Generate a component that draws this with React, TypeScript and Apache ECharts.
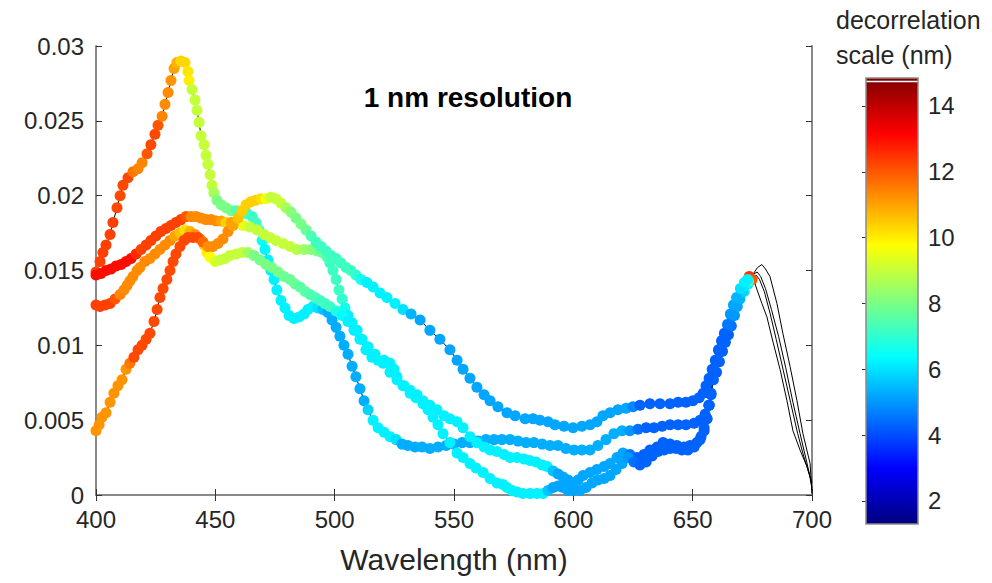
import React, { useEffect, useRef } from "react";
import * as echarts from "echarts";

// ---------- axis / colorbar settings ----------
const X_MIN = 400;
const X_MAX = 700;
const X_STEP = 50;
const Y_MIN = 0;
const Y_MAX = 0.03;
const Y_STEP = 0.005;
const CB_MIN = 1.3;
const CB_MAX = 14.85;
const CB_TICKS = [2, 4, 6, 8, 10, 12, 14];
const JET = ["#000080", "#0000ff", "#0080ff", "#00ffff", "#80ff80", "#ffff00", "#ff8000", "#ff0000", "#800000"];

// ---------- curve 1 (tall 435 nm peak) ----------
const C1_WL = [400.0, 401.7, 402.9, 404.2, 405.9, 407.1, 408.8, 410.1, 411.3, 413.4, 415.5, 417.6, 419.3, 421.4, 423.0, 424.7, 426.0, 427.7, 428.9, 430.2, 431.4, 432.7, 433.9, 435.6, 437.3, 438.5, 439.0, 440.2, 441.5, 442.3, 443.2, 444.0, 445.3, 446.1, 446.9, 447.8, 448.6, 449.4, 450.7, 452.4, 454.5, 456.6, 458.7, 460.8, 463.3, 465.4, 467.0, 468.3, 469.6, 470.8, 472.1, 473.3, 474.6, 475.8, 477.5, 479.2, 480.9, 483.0, 485.1, 487.2, 488.8, 490.9, 493.0, 495.1, 497.2, 498.9, 500.6, 502.2, 503.9, 505.6, 507.3, 508.9, 510.6, 512.3, 514.0, 516.1, 518.2, 520.7, 523.2, 525.7, 528.2, 530.7, 533.7, 536.6, 539.9, 543.3, 546.7, 550.0, 553.4, 556.7, 560.1, 563.4, 566.8, 570.1, 573.5, 576.8, 580.2, 583.5, 586.9, 590.2, 593.6, 596.9, 600.3, 603.6, 607.0, 610.3, 613.7, 617.0, 620.4, 623.7, 627.1, 630.5, 633.8, 637.2, 640.5, 643.9, 647.2, 650.6, 653.1, 655.2, 656.8, 657.3, 657.7, 658.6, 659.8, 661.1, 662.4, 663.6, 664.9, 666.2, 667.4, 668.7, 670.4, 672.0, 673.7];
const C1_R = [0.0149, 0.0156, 0.0162, 0.0167, 0.0174, 0.0182, 0.0192, 0.0200, 0.0207, 0.0212, 0.0216, 0.0218, 0.0222, 0.0228, 0.0234, 0.0241, 0.0247, 0.0253, 0.0261, 0.0269, 0.0277, 0.0285, 0.0289, 0.0290, 0.0289, 0.0283, 0.0277, 0.0271, 0.0264, 0.0257, 0.0249, 0.0240, 0.0234, 0.0227, 0.0221, 0.0214, 0.0207, 0.0202, 0.0197, 0.0194, 0.0192, 0.0190, 0.0190, 0.0188, 0.0188, 0.0186, 0.0182, 0.0177, 0.0170, 0.0164, 0.0157, 0.0150, 0.0144, 0.0137, 0.0130, 0.0125, 0.0120, 0.0118, 0.0119, 0.0121, 0.0124, 0.0126, 0.0125, 0.0124, 0.0122, 0.0117, 0.0112, 0.0106, 0.0100, 0.0094, 0.0086, 0.0079, 0.0071, 0.0063, 0.0057, 0.0050, 0.0045, 0.0042, 0.0039, 0.0037, 0.0034, 0.0033, 0.0032, 0.0032, 0.0031, 0.0032, 0.0033, 0.0034, 0.0035, 0.0035, 0.0036, 0.0037, 0.0037, 0.0037, 0.0037, 0.0036, 0.0035, 0.0035, 0.0034, 0.0033, 0.0033, 0.0031, 0.0030, 0.0030, 0.0030, 0.0033, 0.0037, 0.0041, 0.0043, 0.0043, 0.0044, 0.0045, 0.0045, 0.0046, 0.0047, 0.0047, 0.0047, 0.0048, 0.0050, 0.0054, 0.0060, 0.0068, 0.0077, 0.0082, 0.0089, 0.0096, 0.0102, 0.0107, 0.0113, 0.0120, 0.0126, 0.0131, 0.0136, 0.0141, 0.0146];
const C1_D = [12.3, 12.3, 12.3, 12.3, 12.3, 12.3, 12.2, 12.2, 12.2, 12.2, 11.6, 11.4, 11.4, 12.0, 12.2, 12.2, 12.0, 11.4, 11.3, 11.3, 11.2, 11.0, 10.8, 10.3, 10.3, 10.1, 10.0, 9.0, 9.0, 9.0, 9.0, 9.0, 9.0, 9.0, 9.0, 9.0, 9.0, 8.6, 8.0, 8.0, 8.0, 8.0, 7.4, 7.2, 7.2, 7.2, 7.2, 7.0, 6.5, 6.3, 6.2, 6.2, 6.2, 6.2, 6.2, 6.2, 6.2, 6.2, 6.2, 6.2, 6.2, 6.2, 6.0, 5.6, 5.3, 5.3, 5.3, 5.3, 5.3, 5.3, 5.3, 5.3, 5.3, 5.3, 5.8, 6.2, 6.2, 6.2, 6.2, 6.0, 5.3, 5.3, 5.3, 5.3, 5.3, 5.3, 5.3, 5.3, 5.3, 5.3, 5.3, 5.3, 5.3, 5.3, 5.3, 5.3, 5.3, 5.3, 5.3, 5.3, 5.3, 5.3, 5.3, 5.3, 5.3, 5.3, 5.3, 5.3, 5.3, 5.0, 4.5, 4.3, 4.3, 4.3, 4.3, 4.3, 4.3, 4.3, 4.3, 4.3, 4.3, 4.3, 4.3, 4.3, 4.3, 4.3, 4.3, 4.3, 4.6, 5.0, 5.2, 5.4, 5.8, 7.5, 12.5];
const C1_TAIL_WL = [675.5, 677.0, 679.0, 681.1, 683.7, 686.6, 689.5, 692.0, 695.0, 697.9, 700.0];
const C1_TAIL_R = [0.0144, 0.0137, 0.0128, 0.0119, 0.0102, 0.0084, 0.0063, 0.0043, 0.0030, 0.0019, 0.0008];

// ---------- curve 2 (red band from 0.0147) ----------
const C2_WL = [400.0, 402.1, 404.2, 406.3, 408.4, 410.5, 412.6, 414.7, 416.8, 418.9, 421.0, 423.0, 425.1, 427.2, 429.3, 431.4, 433.5, 435.6, 437.7, 439.8, 441.9, 444.0, 446.1, 448.2, 450.3, 452.4, 454.5, 456.6, 458.7, 461.6, 464.5, 467.5, 470.4, 472.9, 475.4, 478.4, 481.3, 484.2, 487.2, 490.1, 492.6, 494.7, 496.8, 498.0, 499.3, 500.6, 501.8, 503.1, 504.3, 505.6, 507.3, 509.4, 511.5, 514.0, 516.9, 520.3, 523.2, 526.1, 529.1, 531.6, 534.5, 537.0, 539.9, 542.9, 545.8, 548.3, 551.3, 553.8, 556.7, 559.6, 562.6, 565.1, 568.0, 571.0, 573.5, 576.4, 579.3, 581.8, 584.4, 586.9, 589.0, 591.5, 593.6, 595.7, 597.8, 599.9, 602.0, 604.1, 607.0, 609.9, 612.9, 615.4, 618.3, 620.8, 623.7, 626.7, 629.6, 632.1, 635.1, 637.6, 640.5, 643.4, 646.4, 648.9, 651.8, 653.5, 654.8, 656.0, 656.9, 657.7, 658.7, 660.0, 661.2, 662.5, 663.7, 665.0, 666.2, 667.5, 668.7, 669.8, 671.6, 673.2, 674.9];
const C2_R = [0.0147, 0.0148, 0.0150, 0.0151, 0.0153, 0.0154, 0.0156, 0.0158, 0.0161, 0.0164, 0.0167, 0.0170, 0.0173, 0.0176, 0.0178, 0.0180, 0.0182, 0.0184, 0.0186, 0.0186, 0.0186, 0.0185, 0.0184, 0.0184, 0.0183, 0.0183, 0.0182, 0.0182, 0.0182, 0.0180, 0.0179, 0.0177, 0.0174, 0.0172, 0.0170, 0.0168, 0.0166, 0.0164, 0.0164, 0.0164, 0.0163, 0.0162, 0.0159, 0.0155, 0.0150, 0.0144, 0.0137, 0.0131, 0.0125, 0.0120, 0.0115, 0.0110, 0.0104, 0.0099, 0.0094, 0.0088, 0.0082, 0.0077, 0.0073, 0.0070, 0.0067, 0.0063, 0.0060, 0.0057, 0.0053, 0.0051, 0.0049, 0.0045, 0.0039, 0.0035, 0.0032, 0.0030, 0.0029, 0.0027, 0.0025, 0.0025, 0.0024, 0.0023, 0.0022, 0.0020, 0.0019, 0.0016, 0.0014, 0.0012, 0.0010, 0.0008, 0.0010, 0.0013, 0.0015, 0.0017, 0.0019, 0.0021, 0.0025, 0.0028, 0.0027, 0.0025, 0.0027, 0.0030, 0.0032, 0.0035, 0.0034, 0.0033, 0.0032, 0.0033, 0.0035, 0.0039, 0.0045, 0.0051, 0.0060, 0.0067, 0.0077, 0.0082, 0.0089, 0.0096, 0.0102, 0.0107, 0.0113, 0.0120, 0.0126, 0.0131, 0.0136, 0.0141, 0.0144];
const C2_D = [13, 13, 13, 13, 13, 13, 13, 13, 12.6, 12.3, 12.3, 12.3, 12.3, 12.3, 12.3, 12.3, 12.3, 12.3, 12.0, 11.4, 11.3, 11.3, 11.3, 11.3, 11.3, 11.0, 10.4, 11.0, 11.0, 9.5, 9.0, 9.0, 9.0, 9.0, 9.0, 9.0, 9.0, 8.8, 8.5, 8.2, 8.0, 7.8, 7.5, 7.2, 7.2, 7.2, 7.2, 7.0, 6.6, 6.2, 6.2, 6.2, 6.2, 6.2, 6.2, 6.2, 6.2, 6.2, 6.2, 6.2, 6.2, 6.2, 6.2, 6.2, 6.2, 6.2, 6.2, 6.2, 6.2, 6.2, 6.2, 6.2, 6.2, 6.2, 6.2, 6.2, 6.2, 6.2, 6.2, 6.2, 6.2, 5.6, 5.2, 5.2, 5.2, 5.2, 5.2, 5.2, 5.2, 5.2, 5.2, 5.2, 5.2, 5.2, 4.6, 4.3, 4.3, 4.3, 4.3, 4.3, 4.3, 4.3, 4.3, 4.3, 4.3, 4.3, 4.3, 4.3, 4.3, 4.3, 4.3, 4.3, 4.3, 4.3, 4.3, 4.3, 4.6, 5.0, 5.2, 5.5, 6.0, 6.2, 12.0];
const C2_TAIL_WL = [676.5, 678.0, 680.0, 682.5, 685.0, 688.0, 691.0, 694.0, 696.5, 699.0, 700.0];
const C2_TAIL_R = [0.0147, 0.0144, 0.0136, 0.0121, 0.0104, 0.0083, 0.0062, 0.0041, 0.0026, 0.0013, 0.0005];

// ---------- curve 3 (starts at 0.0127) ----------
const C3_WL = [400.0, 401.7, 403.8, 405.9, 408.0, 410.1, 411.7, 413.0, 414.2, 415.5, 417.2, 418.4, 420.5, 422.6, 424.7, 426.8, 428.9, 431.0, 433.1, 435.2, 437.3, 439.4, 441.5, 443.6, 445.3, 446.5, 447.8, 449.9, 452.0, 454.1, 456.1, 458.7, 461.2, 463.7, 466.2, 468.7, 471.2, 473.7, 476.3, 478.8, 481.3, 483.4, 485.5, 487.6, 489.7, 491.8, 493.9, 495.9, 498.0, 500.6, 503.1, 505.6, 508.1, 510.6, 513.1, 515.6, 518.2, 520.7, 523.2, 524.9, 526.1, 528.6, 531.6, 534.1, 537.0, 539.1, 541.2, 543.3, 545.4, 548.3, 551.3, 553.8, 556.7, 559.2, 562.2, 565.1, 568.0, 570.5, 572.2, 574.3, 576.4, 578.9, 581.8, 584.8, 587.3, 589.4, 591.5, 593.6, 595.7, 597.8, 600.3, 602.8, 605.3, 607.8, 610.3, 612.9, 615.4, 617.9, 620.4, 622.9, 625.4, 627.9, 630.5, 633.0, 635.5, 638.0, 640.5, 643.0, 645.5, 648.0, 650.6, 653.1, 654.8, 656.0, 656.9, 657.7, 658.3, 659.6, 660.8, 662.1, 663.3, 664.6, 665.8, 667.1, 668.4, 669.6, 670.9, 672.1, 673.4];
const C3_R = [0.0127, 0.0126, 0.0127, 0.0128, 0.0131, 0.0134, 0.0137, 0.0140, 0.0143, 0.0146, 0.0150, 0.0152, 0.0156, 0.0158, 0.0161, 0.0164, 0.0167, 0.0170, 0.0173, 0.0175, 0.0177, 0.0176, 0.0174, 0.0171, 0.0167, 0.0162, 0.0159, 0.0156, 0.0157, 0.0158, 0.0160, 0.0161, 0.0162, 0.0162, 0.0160, 0.0157, 0.0154, 0.0152, 0.0149, 0.0146, 0.0144, 0.0141, 0.0139, 0.0136, 0.0134, 0.0132, 0.0130, 0.0128, 0.0126, 0.0123, 0.0120, 0.0116, 0.0110, 0.0104, 0.0097, 0.0092, 0.0090, 0.0090, 0.0088, 0.0084, 0.0079, 0.0073, 0.0068, 0.0065, 0.0061, 0.0057, 0.0052, 0.0047, 0.0041, 0.0035, 0.0028, 0.0025, 0.0021, 0.0018, 0.0015, 0.0011, 0.0008, 0.0007, 0.0005, 0.0003, 0.0002, 0.0001, 0.0001, 0.0001, 0.0001, 0.0003, 0.0005, 0.0006, 0.0005, 0.0003, 0.0003, 0.0003, 0.0005, 0.0008, 0.0010, 0.0011, 0.0013, 0.0017, 0.0021, 0.0025, 0.0022, 0.0020, 0.0022, 0.0026, 0.0029, 0.0030, 0.0031, 0.0031, 0.0030, 0.0030, 0.0032, 0.0037, 0.0043, 0.0051, 0.0060, 0.0068, 0.0077, 0.0082, 0.0089, 0.0096, 0.0102, 0.0107, 0.0113, 0.0120, 0.0126, 0.0131, 0.0136, 0.0140, 0.0143];
const C3_D = [12.3, 12.3, 12.3, 12.3, 12.0, 11.4, 11.3, 11.3, 11.3, 11.3, 11.3, 11.3, 11.3, 11.3, 11.3, 11.3, 11.3, 11.3, 11.0, 10.6, 10.2, 10.8, 11.2, 11.2, 10.5, 10.0, 9.8, 9.3, 9.0, 9.0, 9.0, 9.0, 9.0, 8.5, 8.0, 8.0, 8.0, 8.0, 8.0, 7.8, 7.8, 7.8, 7.6, 7.6, 7.4, 7.4, 7.2, 7.2, 7.2, 6.8, 6.4, 6.2, 6.2, 6.2, 6.2, 6.2, 6.2, 6.2, 6.2, 6.2, 6.2, 6.2, 6.2, 6.2, 6.2, 6.2, 6.2, 6.2, 6.2, 6.2, 6.2, 6.2, 6.2, 6.2, 6.2, 6.2, 6.2, 6.2, 6.2, 6.2, 6.2, 6.2, 6.2, 6.2, 6.2, 5.6, 5.2, 5.2, 5.2, 5.2, 5.2, 5.2, 5.2, 5.2, 5.2, 5.2, 5.2, 5.2, 5.2, 5.0, 4.5, 4.3, 4.3, 4.3, 4.3, 4.3, 4.3, 4.3, 4.3, 4.3, 4.3, 4.3, 4.3, 4.3, 4.3, 4.3, 4.3, 4.3, 4.3, 4.3, 4.3, 4.3, 4.5, 5.0, 5.2, 5.4, 5.8, 6.2, 7.5];
const C3_TAIL_WL = [675.5, 677.2, 679.0, 680.5, 682.4, 685.3, 687.8, 690.8, 693.7, 696.2, 699.2, 700.0];
const C3_TAIL_R = [0.0148, 0.0152, 0.0154, 0.0151, 0.0146, 0.0128, 0.0108, 0.0086, 0.0063, 0.0041, 0.0021, 0.0001];

// ---------- curve 4 (starts at 0.0043, upper blue tail) ----------
const C4_WL = [400.0, 401.3, 402.5, 404.2, 405.9, 407.5, 409.2, 410.9, 412.6, 414.2, 415.9, 417.6, 419.3, 421.0, 422.6, 424.3, 425.6, 426.8, 428.1, 429.7, 431.0, 432.3, 433.5, 435.2, 436.9, 438.5, 440.6, 442.7, 444.8, 446.9, 449.0, 451.1, 453.2, 455.3, 457.4, 459.5, 461.2, 462.9, 464.9, 467.0, 469.1, 471.2, 473.3, 475.4, 477.5, 479.6, 481.7, 483.8, 485.9, 488.0, 490.1, 492.2, 494.3, 496.4, 498.5, 500.6, 502.7, 504.8, 506.8, 508.9, 511.0, 513.5, 516.1, 519.0, 521.9, 525.3, 528.6, 532.0, 535.8, 539.9, 544.1, 548.3, 551.3, 553.8, 556.7, 559.6, 562.6, 565.1, 568.4, 572.2, 575.6, 579.8, 583.1, 586.0, 589.4, 592.3, 596.1, 599.9, 603.6, 607.0, 609.9, 612.4, 615.4, 618.7, 622.1, 625.0, 627.9, 632.1, 636.3, 640.5, 643.9, 647.2, 650.1, 652.7, 654.4, 655.6, 656.9, 658.2, 659.5, 660.8, 662.1, 663.3, 664.6, 665.8, 667.1, 668.4, 670.0, 671.7, 673.0];
const C4_R = [0.0043, 0.0047, 0.0052, 0.0055, 0.0062, 0.0068, 0.0073, 0.0077, 0.0084, 0.0088, 0.0092, 0.0097, 0.0100, 0.0104, 0.0108, 0.0116, 0.0124, 0.0132, 0.0138, 0.0144, 0.0150, 0.0156, 0.0161, 0.0166, 0.0170, 0.0172, 0.0172, 0.0172, 0.0169, 0.0166, 0.0166, 0.0168, 0.0171, 0.0176, 0.0180, 0.0185, 0.0190, 0.0194, 0.0196, 0.0197, 0.0198, 0.0198, 0.0199, 0.0198, 0.0195, 0.0192, 0.0189, 0.0185, 0.0181, 0.0177, 0.0173, 0.0169, 0.0166, 0.0163, 0.0160, 0.0158, 0.0155, 0.0152, 0.0150, 0.0147, 0.0144, 0.0142, 0.0139, 0.0135, 0.0132, 0.0128, 0.0124, 0.0121, 0.0117, 0.0110, 0.0104, 0.0097, 0.0090, 0.0084, 0.0078, 0.0072, 0.0067, 0.0063, 0.0059, 0.0055, 0.0053, 0.0051, 0.0051, 0.0050, 0.0049, 0.0047, 0.0046, 0.0045, 0.0046, 0.0047, 0.0049, 0.0053, 0.0055, 0.0057, 0.0058, 0.0059, 0.0060, 0.0061, 0.0061, 0.0061, 0.0062, 0.0062, 0.0063, 0.0065, 0.0068, 0.0073, 0.0078, 0.0084, 0.0090, 0.0097, 0.0103, 0.0108, 0.0114, 0.0121, 0.0127, 0.0132, 0.0138, 0.0142, 0.0144];
const C4_D = [11.2, 11.2, 11.2, 11.2, 11.2, 11.2, 11.2, 11.2, 11.2, 11.6, 12.2, 12.2, 12.2, 12.2, 12.2, 12.2, 12.2, 12.2, 12.2, 12.2, 12.2, 12.2, 12.2, 12.2, 12.2, 12.2, 12.2, 12.2, 11.8, 11.3, 11.3, 11.3, 11.3, 11.3, 11.0, 10.6, 10.4, 10.4, 10.4, 10.4, 10.2, 9.6, 9.0, 9.0, 9.0, 8.6, 8.2, 8.0, 8.0, 7.8, 7.4, 7.2, 7.2, 7.2, 7.2, 7.2, 7.2, 7.2, 7.2, 7.0, 6.6, 6.2, 6.2, 6.2, 6.2, 6.2, 6.0, 5.4, 5.2, 5.2, 5.2, 5.2, 5.2, 5.2, 5.2, 5.2, 5.2, 5.2, 5.2, 5.2, 5.2, 5.2, 5.2, 5.2, 5.2, 5.2, 5.2, 5.2, 5.2, 5.2, 5.2, 5.2, 5.2, 5.2, 5.2, 4.8, 4.3, 4.3, 4.3, 4.3, 4.3, 4.3, 4.3, 4.3, 4.3, 4.3, 4.3, 4.3, 4.3, 4.3, 4.3, 4.3, 4.6, 5.0, 5.2, 5.4, 6.0, 6.2, 6.2];
const C4_TAIL_WL = [675.0, 677.0, 678.5, 680.5, 683.0, 686.0, 689.0, 692.0, 695.0, 697.5, 699.5, 700.0];
const C4_TAIL_R = [0.0147, 0.0149, 0.0146, 0.0138, 0.0124, 0.0106, 0.0085, 0.0062, 0.0041, 0.0024, 0.0010, 0.0003];

const CURVES = [
  { wl: C1_WL, r: C1_R, d: C1_D, tw: C1_TAIL_WL, tr: C1_TAIL_R },
  { wl: C2_WL, r: C2_R, d: C2_D, tw: C2_TAIL_WL, tr: C2_TAIL_R },
  { wl: C3_WL, r: C3_R, d: C3_D, tw: C3_TAIL_WL, tr: C3_TAIL_R },
  { wl: C4_WL, r: C4_R, d: C4_D, tw: C4_TAIL_WL, tr: C4_TAIL_R },
];

const FONT = "'Liberation Sans', Arial, Helvetica, sans-serif";
const TXT = "#262626";
const AX = "#8a8a8a";

export default function App() {
  const ref = useRef<HTMLDivElement>(null);
  useEffect(() => {
    if (!ref.current) return;
    const chart = echarts.init(ref.current, undefined, { renderer: "svg" });

    const lineSeries = CURVES.map((c) => ({
      type: "line",
      xAxisIndex: 0,
      yAxisIndex: 0,
      data: c.wl.map((w, i) => [w, c.r[i]]).concat(c.tw.map((w, i) => [w, c.tr[i]])),
      symbol: "none",
      silent: true,
      z: 1,
      lineStyle: { color: "#000", width: 1 },
    }));
    const dotSeries = CURVES.map((c) => ({
      type: "scatter",
      xAxisIndex: 0,
      yAxisIndex: 0,
      data: c.wl.map((w, i) => [w, c.r[i], c.d[i]]),
      symbol: "circle",
      symbolSize: 11,
      silent: true,
      z: 2,
      itemStyle: { opacity: 1 },
    }));

    const stops = JET.map((col, i) => ({ offset: i / (JET.length - 1), color: JET[JET.length - 1 - i] }));

    const colorbar = {
      type: "custom",
      xAxisIndex: 2,
      yAxisIndex: 2,
      silent: true,
      z: 1,
      data: [[0, CB_MIN, 1, CB_MAX]],
      renderItem: (params: any, api: any) => {
        const p0 = api.coord([api.value(0), api.value(3)]);
        const p1 = api.coord([api.value(2), api.value(1)]);
        const w = p1[0] - p0[0];
        const h = p1[1] - p0[1];
        return {
          type: "group",
          children: [
            {
              type: "rect",
              shape: { x: p0[0], y: p0[1], width: w, height: h },
              style: { fill: new echarts.graphic.LinearGradient(0, 0, 0, 1, stops) },
            },
            {
              type: "line",
              shape: { x1: p0[0], y1: p0[1] + 3.5, x2: p1[0], y2: p0[1] + 3.5 },
              style: { stroke: "#ffffff", lineWidth: 1.5 },
            },
            {
              type: "rect",
              shape: { x: p0[0], y: p0[1], width: w, height: h },
              style: { fill: "none", stroke: AX, lineWidth: 1.5 },
            },
          ],
        };
      },
    };

    const yFmt = (v: number) => (v === 0 ? "0" : String(Number(v.toFixed(3))));
    const labelStyle = { color: TXT, fontSize: 24, fontFamily: FONT };

    chart.setOption({
      animation: false,
      backgroundColor: "#ffffff",
      grid: [
        { left: 96, top: 46, width: 716, height: 449, containLabel: false },
        { left: 866, top: 78, width: 52, height: 446, containLabel: false },
      ],
      xAxis: [
        {
          gridIndex: 0,
          type: "value",
          position: "bottom",
          min: X_MIN,
          max: X_MAX,
          interval: X_STEP,
          axisLine: { show: true, lineStyle: { color: AX, width: 2 } },
          axisTick: { show: true, inside: true, length: 6, lineStyle: { color: "#333", width: 1 } },
          axisLabel: { ...labelStyle, margin: 12 },
          splitLine: { show: false },
          name: "Wavelength (nm)",
          nameLocation: "middle",
          nameGap: 49,
          nameTextStyle: { color: TXT, fontSize: 30, fontFamily: FONT },
        },
        {
          gridIndex: 0,
          type: "value",
          position: "top",
          min: X_MIN,
          max: X_MAX,
          interval: X_STEP,
          axisLine: { show: true, lineStyle: { color: AX, width: 2 } },
          axisTick: { show: true, inside: true, length: 6, lineStyle: { color: "#333", width: 1 } },
          axisLabel: { show: false },
          splitLine: { show: false },
        },
        { gridIndex: 1, type: "value", min: 0, max: 1, show: false },
      ],
      yAxis: [
        {
          gridIndex: 0,
          type: "value",
          position: "left",
          min: Y_MIN,
          max: Y_MAX,
          interval: Y_STEP,
          axisLine: { show: true, lineStyle: { color: AX, width: 2 } },
          axisTick: { show: true, inside: true, length: 6, lineStyle: { color: "#333", width: 1 } },
          axisLabel: { ...labelStyle, margin: 12, formatter: yFmt },
          splitLine: { show: false },
        },
        {
          gridIndex: 0,
          type: "value",
          position: "right",
          min: Y_MIN,
          max: Y_MAX,
          interval: Y_STEP,
          axisLine: { show: true, lineStyle: { color: AX, width: 2 } },
          axisTick: { show: true, inside: true, length: 6, lineStyle: { color: "#333", width: 1 } },
          axisLabel: { show: false },
          splitLine: { show: false },
        },
        {
          gridIndex: 1,
          type: "value",
          position: "right",
          min: CB_MIN,
          max: CB_MAX,
          axisLine: { show: false },
          axisTick: { show: true, inside: true, length: 4, customValues: CB_TICKS, lineStyle: { color: "#333", width: 1 } },
          axisLabel: { ...labelStyle, margin: 10, customValues: CB_TICKS },
          splitLine: { show: false },
        },
      ],
      visualMap: {
        type: "continuous",
        show: false,
        dimension: 2,
        min: CB_MIN,
        max: CB_MAX,
        seriesIndex: [4, 5, 6, 7],
        inRange: { color: JET },
      },
      graphic: [
        {
          type: "text",
          x: 468,
          y: 97,
          style: { text: "1 nm resolution", fontSize: 28, fontWeight: "bold", fontFamily: FONT, fill: "#000", textAlign: "center", textVerticalAlign: "middle" },
        },
        {
          type: "text",
          x: 836,
          y: 20,
          style: { text: "decorrelation", fontSize: 25, fontFamily: FONT, fill: TXT, textAlign: "left", textVerticalAlign: "middle" },
        },
        {
          type: "text",
          x: 836,
          y: 55,
          style: { text: "scale (nm)", fontSize: 25, fontFamily: FONT, fill: TXT, textAlign: "left", textVerticalAlign: "middle" },
        },
      ],
      series: [...lineSeries, ...dotSeries, colorbar],
    });
    return () => chart.dispose();
  }, []);

  return (
    <div
      ref={ref}
      style={{ position: "fixed", left: 0, top: 0, width: 992, height: 583, background: "#fff" }}
    />
  );
}
